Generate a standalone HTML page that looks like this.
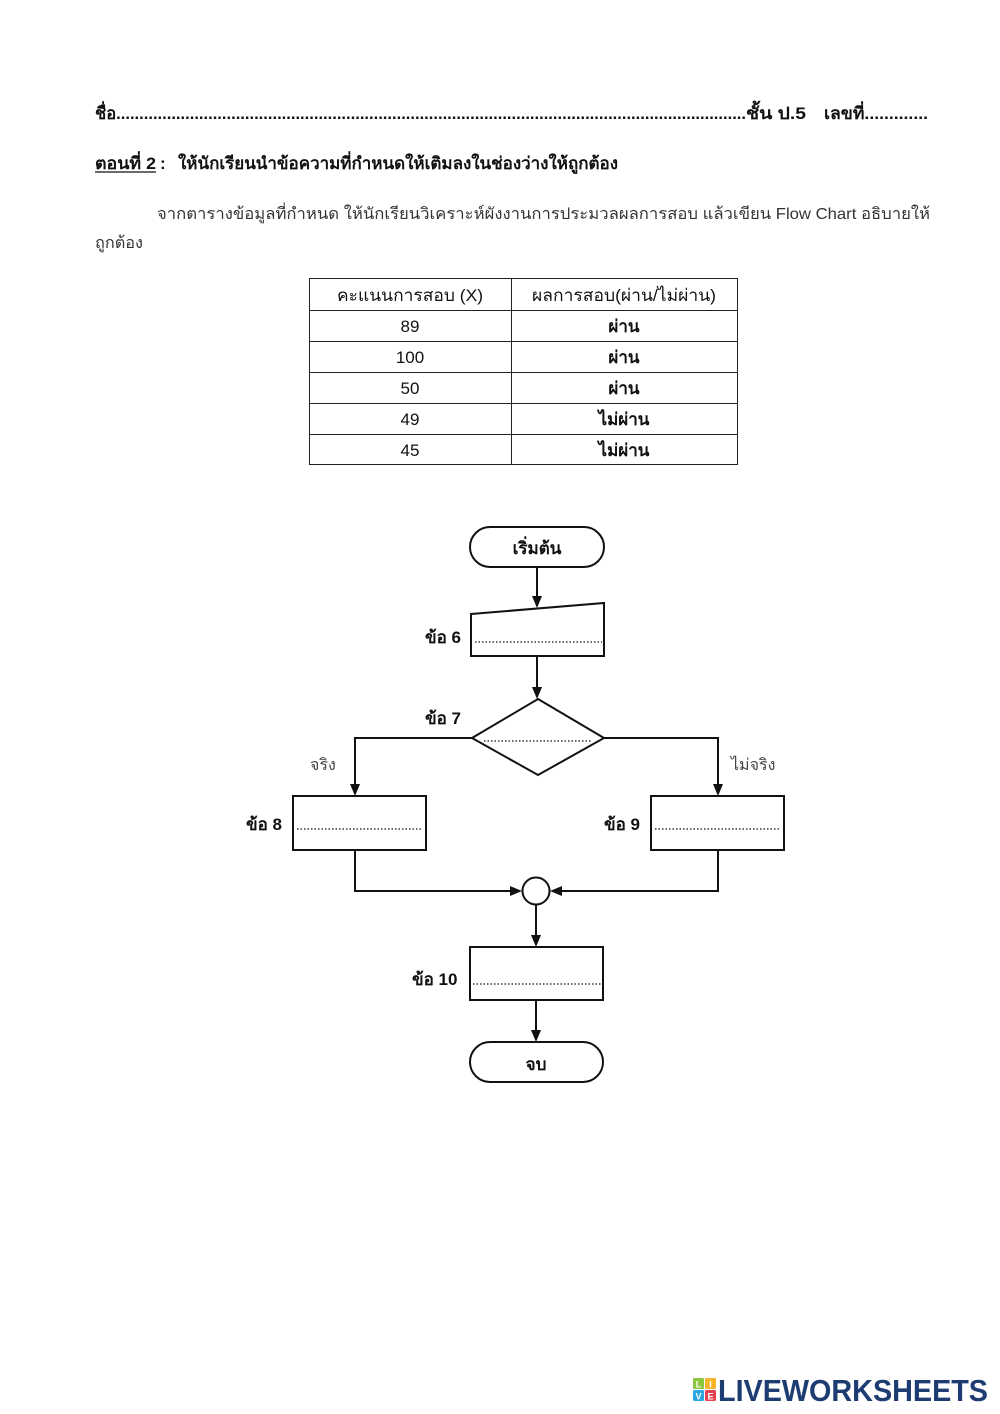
<!DOCTYPE html>
<html>
<head>
<meta charset="utf-8">
<style>
html,body{margin:0;padding:0;background:#fff;}
body{width:1000px;height:1414px;overflow:hidden;}
svg{display:block;}
text{font-family:"Liberation Sans","DejaVu Sans",sans-serif;fill:#111;}
.b{font-weight:bold;}
</style>
</head>
<body>
<svg width="1000" height="1414" viewBox="0 0 1000 1414" xmlns="http://www.w3.org/2000/svg">
<rect width="1000" height="1414" fill="#fff"/>

<!-- Header -->
<text x="95" y="119" font-size="17" class="b" textLength="651" lengthAdjust="spacingAndGlyphs">ชื่อ.........................................................................................................................................</text>
<text x="746" y="119" font-size="17" class="b" textLength="60" lengthAdjust="spacingAndGlyphs">ชั้น ป.5</text>
<text x="824" y="119" font-size="17" class="b" textLength="104" lengthAdjust="spacingAndGlyphs">เลขที่.............</text>

<text x="95" y="169" font-size="17" class="b" textLength="61" lengthAdjust="spacingAndGlyphs">ตอนที่ 2</text>
<line x1="95" y1="172" x2="156" y2="172" stroke="#111" stroke-width="1.3"/>
<text x="160" y="169" font-size="17" class="b">:</text>
<text x="178" y="169" font-size="17" class="b" textLength="440" lengthAdjust="spacingAndGlyphs">ให้นักเรียนนำข้อความที่กำหนดให้เติมลงในช่องว่างให้ถูกต้อง</text>

<text x="157" y="219" font-size="16" style="fill:#333" textLength="773" lengthAdjust="spacingAndGlyphs">จากตารางข้อมูลที่กำหนด ให้นักเรียนวิเคราะห์ผังงานการประมวลผลการสอบ แล้วเขียน Flow Chart อธิบายให้</text>
<text x="95" y="248" font-size="16" style="fill:#333" textLength="48" lengthAdjust="spacingAndGlyphs">ถูกต้อง</text>

<!-- Table -->
<g stroke="#222" stroke-width="1" fill="none">
<rect x="309.5" y="278.5" width="428" height="186"/>
<line x1="511.5" y1="278" x2="511.5" y2="465"/>
<line x1="309" y1="310.5" x2="738" y2="310.5"/>
<line x1="309" y1="341.5" x2="738" y2="341.5"/>
<line x1="309" y1="372.5" x2="738" y2="372.5"/>
<line x1="309" y1="403.5" x2="738" y2="403.5"/>
<line x1="309" y1="434.5" x2="738" y2="434.5"/>
</g>
<g font-size="17" text-anchor="middle">
<text x="410" y="301" textLength="146" lengthAdjust="spacingAndGlyphs">คะแนนการสอบ (X)</text>
<text x="624" y="301" textLength="184" lengthAdjust="spacingAndGlyphs">ผลการสอบ(ผ่าน/ไม่ผ่าน)</text>
<text x="410" y="332">89</text>
<text x="410" y="363">100</text>
<text x="410" y="394">50</text>
<text x="410" y="425">49</text>
<text x="410" y="456">45</text>
<text x="624" y="332" style="font-weight:600">ผ่าน</text>
<text x="624" y="363" style="font-weight:600">ผ่าน</text>
<text x="624" y="394" style="font-weight:600">ผ่าน</text>
<text x="624" y="425" style="font-weight:600">ไม่ผ่าน</text>
<text x="624" y="456" style="font-weight:600">ไม่ผ่าน</text>
</g>

<!-- Flowchart shapes -->
<g stroke="#111" stroke-width="2" fill="#fff">
<rect x="470" y="527" width="134" height="40" rx="20" ry="20"/>
<polygon points="471,614 604,603 604,656 471,656"/>
<polygon points="538,699 604,738 538,775 472,738"/>
<rect x="293" y="796" width="133" height="54"/>
<rect x="651" y="796" width="133" height="54"/>
<circle cx="536" cy="891" r="13.5"/>
<rect x="470" y="947" width="133" height="53"/>
<rect x="470" y="1042" width="133" height="40" rx="20" ry="20"/>
</g>

<!-- dotted lines -->
<g stroke="#111" stroke-width="1.2" stroke-dasharray="1.5,2" fill="none">
<line x1="475" y1="642" x2="602" y2="642"/>
<line x1="484" y1="741" x2="592" y2="741"/>
<line x1="297" y1="829" x2="423" y2="829"/>
<line x1="655" y1="829" x2="781" y2="829"/>
<line x1="473" y1="984" x2="601" y2="984"/>
</g>

<!-- connectors -->
<g stroke="#111" stroke-width="2" fill="none">
<line x1="537" y1="567" x2="537" y2="600"/>
<line x1="537" y1="656" x2="537" y2="691"/>
<polyline points="472,738 355,738 355,788"/>
<polyline points="604,738 718,738 718,788"/>
<polyline points="355,850 355,891 514,891"/>
<polyline points="718,850 718,891 558,891"/>
<line x1="536" y1="904.5" x2="536" y2="939"/>
<line x1="536" y1="1000" x2="536" y2="1034"/>
</g>
<g fill="#111">
<polygon points="537,608 532,596 542,596"/>
<polygon points="537,699 532,687 542,687"/>
<polygon points="355,796 350,784 360,784"/>
<polygon points="718,796 713,784 723,784"/>
<polygon points="522,891 510,886 510,896"/>
<polygon points="550,891 562,886 562,896"/>
<polygon points="536,947 531,935 541,935"/>
<polygon points="536,1042 531,1030 541,1030"/>
</g>

<!-- flowchart labels -->
<text x="537" y="554" font-size="17" class="b" text-anchor="middle">เริ่มต้น</text>
<text x="425" y="643" font-size="17" class="b">ข้อ 6</text>
<text x="425" y="724" font-size="17" class="b">ข้อ 7</text>
<text x="310" y="770" font-size="16" style="fill:#444">จริง</text>
<text x="731" y="770" font-size="16" style="fill:#444">ไม่จริง</text>
<text x="246" y="830" font-size="17" class="b">ข้อ 8</text>
<text x="604" y="830" font-size="17" class="b">ข้อ 9</text>
<text x="412" y="985" font-size="17" class="b">ข้อ 10</text>
<text x="536" y="1070" font-size="17" class="b" text-anchor="middle">จบ</text>

<!-- Logo -->
<rect x="693" y="1378" width="11" height="11" rx="1.5" fill="#8cc63f"/>
<rect x="705" y="1378" width="11" height="11" rx="1.5" fill="#f7b32b"/>
<rect x="693" y="1390" width="11" height="11" rx="1.5" fill="#29a8e0"/>
<rect x="705" y="1390" width="11" height="11" rx="1.5" fill="#e8414f"/>
<text x="698.5" y="1387.5" font-size="9" class="b" text-anchor="middle" style="fill:#fff">L</text>
<text x="710.5" y="1387.5" font-size="9" class="b" text-anchor="middle" style="fill:#fff">I</text>
<text x="698.5" y="1399.5" font-size="9" class="b" text-anchor="middle" style="fill:#fff">V</text>
<text x="710.5" y="1399.5" font-size="9" class="b" text-anchor="middle" style="fill:#fff">E</text>
<text x="718" y="1401" font-size="31" class="b" style="fill:#1d3c72" textLength="270" lengthAdjust="spacingAndGlyphs">LIVEWORKSHEETS</text>
</svg>
</body>
</html>
